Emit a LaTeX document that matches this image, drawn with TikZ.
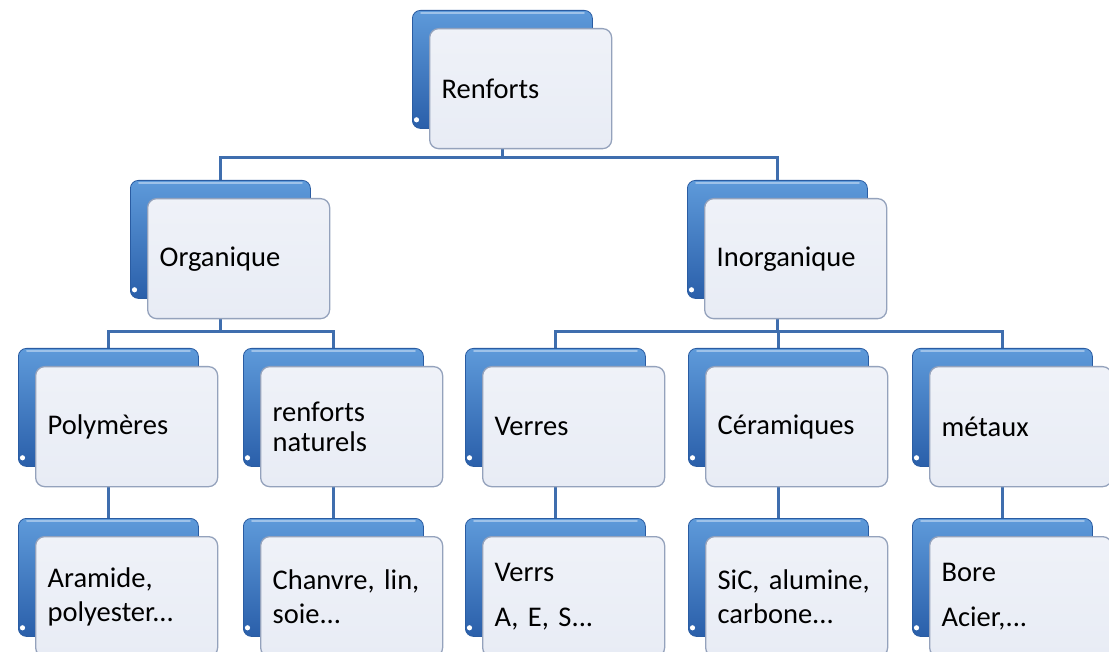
\documentclass[tikz,border=0pt]{standalone}
\usepackage{fontspec}
\setmainfont{Carlito}
\frenchspacing
\usetikzlibrary{calc}
\pgfdeclarelayer{bg}
\pgfsetlayers{bg,main}
\definecolor{linkblue}{HTML}{3F6EAE}
\definecolor{bluetop}{HTML}{5E9ADA}
\definecolor{bluebot}{HTML}{2A5FAA}
\definecolor{blueedge}{HTML}{2A5CA2}
\definecolor{cardfill}{HTML}{E8ECF5}
\definecolor{cardedge}{HTML}{94A2BC}
\tikzset{
  backbox/.style={draw=blueedge, line width=0.8pt, rounded corners=8pt,
    top color=bluetop, bottom color=bluebot, minimum width=180pt,
    minimum height=118pt, inner sep=0pt},
  frontbox/.style={draw=cardedge, line width=1.3pt, rounded corners=9pt,
    top color=cardfill!70!white, bottom color=cardfill, text width=158pt,
    inner xsep=12pt, inner ysep=0pt, minimum height=120pt, align=left,
    font=\fontsize{28.5}{34}\selectfont\frenchspacing, text=black},
  link/.style={draw=linkblue, line width=3pt}
}
\newcommand\card[4]{%
  \node[backbox, anchor=north west] (#1b) at (#2,#3) {};
  \draw[bluetop!60!white, line width=2pt, line cap=round]
    ($(#1b.north west)+(9,3)$) -- ($(#1b.north east)+(-9,3)$);
  \fill[white] ($(#1b.south west)+(4.5,-9)$) circle (2.6pt);
  \node[frontbox, anchor=north west] (#1) at (#2+17,#3+18) {#4};
}
\begin{document}
\begin{tikzpicture}[x=1pt,y=-1pt]
\useasboundingbox (0,0) rectangle (1109,652);
% level 1
\card{ren}{412}{10}{Renforts}
% level 2
\card{org}{130}{180}{Organique}
\card{ino}{687}{180}{Inorganique}
% level 3
\card{pol}{18}{348}{Polymères}
\card{nat}{243}{348}{renforts\\[-4pt]naturels}
\card{ver}{465}{348}{Verres}
\card{cer}{688}{348}{Céramiques}
\card{met}{912}{348}{métaux}
% level 4
\card{ara}{18}{518}{Aramide,\\polyester...}
\card{cha}{243}{518}{Chanvre, lin,\\soie...}
\card{vrs}{465}{518}{Verrs\\[11pt]A, E, S...}
\card{sic}{688}{518}{SiC, alumine,\\carbone...}
\card{bor}{912}{518}{Bore\\[11pt]Acier,...}
\begin{pgfonlayer}{bg}
  \fill[white] (0,0) rectangle (1109,652);
  \draw[link] (renb.south) -- (renb.south |- 0,158) -| (orgb.north);
  \draw[link] (renb.south |- 0,158) -| (inob.north);
  \draw[link] (orgb.south) -- (orgb.south |- 0,332) -| (polb.north);
  \draw[link] (orgb.south |- 0,332) -| (natb.north);
  \draw[link] (inob.south) -- (inob.south |- 0,332) -| (verb.north);
  \draw[link] (inob.south |- 0,332) -| (cerb.north);
  \draw[link] (inob.south |- 0,332) -| (metb.north);
  \draw[link] (polb.south) -- (arab.north);
  \draw[link] (natb.south) -- (chab.north);
  \draw[link] (verb.south) -- (vrsb.north);
  \draw[link] (cerb.south) -- (sicb.north);
  \draw[link] (metb.south) -- (borb.north);
\end{pgfonlayer}
\end{tikzpicture}
\end{document}
